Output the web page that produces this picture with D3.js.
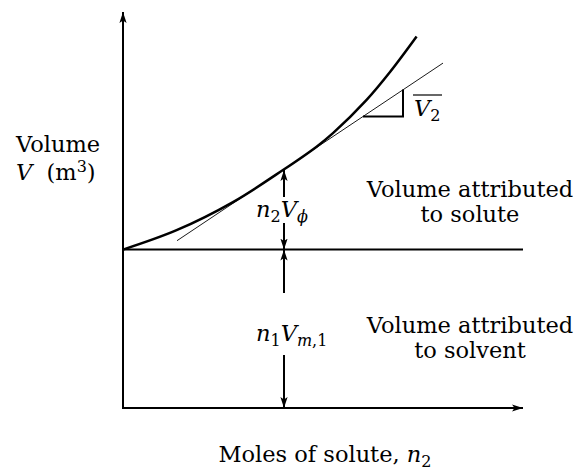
<!DOCTYPE html>
<html>
<head>
<meta charset="utf-8">
<script src="https://cdn.jsdelivr.net/npm/d3@7"></script>
<style>
  body { margin: 0; background: #fff; }
</style>
</head>
<body>
<svg id="chart"></svg>
<script>
// // constants
const width = 581;
const height = 472;
const fontSize = 22.5;
const subSize = 16;
const font = "'DejaVu Serif', 'Liberation Serif', serif";

// data (axis units 0..1)
const n2Extent = [0, 1];
const volExtent = [0, 1];
const solventVol = 0.40;
const curveN2 = [0, 0.134, 0.275, 0.40, 0.484, 0.525, 0.609, 0.668, 0.734];
const curveV = [0.40, 0.449, 0.520, 0.601, 0.660, 0.694, 0.778, 0.849, 0.938];
const tangentN2 = [0.135, 0.80];
const tangentV = [0.4225, 0.871];
const triangleN2 = [0.60, 0.70];
const triangleV = [0.736, 0.804];
const markN2 = 0.4025;
const markV = 0.601;

var svg = d3.select('svg#chart').attr('width', width).attr('height', height)

var x = d3.scaleLinear().domain(n2Extent).range([123, 523])
var y = d3.scaleLinear().domain(volExtent).range([408, 12])

// arrow head
svg.append("defs").append("marker")
    .attr("id", "head")
    .attr("viewBox", "0 -4 11 8")
    .attr("refX", 11)
    .attr("refY", 0)
    .attr("markerUnits", "userSpaceOnUse")
    .attr("markerWidth", 11)
    .attr("markerHeight", 8)
    .attr("orient", "auto-start-reverse")
    .append("path")
    .attr("d", "M0,-3.6 L11,0 L0,3.6 L2.5,0 Z")
    .attr("fill", "#000")

// axes
svg.append("line")
    .attr("x1", x(0)).attr("y1", y(0))
    .attr("x2", x(0)).attr("y2", y(volExtent[1]))
    .attr("stroke", "#000").attr("stroke-width", 2)
    .attr("marker-end", "url(#head)")

svg.append("line")
    .attr("x1", x(0) - 1).attr("y1", y(0))
    .attr("x2", x(n2Extent[1])).attr("y2", y(0))
    .attr("stroke", "#000").attr("stroke-width", 2)
    .attr("marker-end", "url(#head)")

// solvent level
svg.append("line")
    .attr("x1", x(0)).attr("y1", y(solventVol))
    .attr("x2", x(n2Extent[1])).attr("y2", y(solventVol))
    .attr("stroke", "#000").attr("stroke-width", 2)

// tangent
svg.append("line")
    .attr("x1", x(tangentN2[0])).attr("y1", y(tangentV[0]))
    .attr("x2", x(tangentN2[1])).attr("y2", y(tangentV[1]))
    .attr("stroke", "#000").attr("stroke-width", 0.9)

// slope triangle
svg.append("path")
    .attr("d", "M" + x(triangleN2[0]) + "," + y(triangleV[0])
        + " L" + x(triangleN2[1]) + "," + y(triangleV[0])
        + " L" + x(triangleN2[1]) + "," + y(triangleV[1]))
    .attr("fill", "none")
    .attr("stroke", "#000").attr("stroke-width", 2)

// volume curve
var pts = curveN2.map((d, i) => [d, curveV[i]])
svg.append("path")
    .datum(pts)
    .attr("d", d3.line().x(d => x(d[0])).y(d => y(d[1])).curve(d3.curveCatmullRom.alpha(0.5)))
    .attr("fill", "none")
    .attr("stroke", "#000")
    .attr("stroke-width", 2.5)

// double arrows
function dblArrow(v0, v1) {
    svg.append("line")
        .attr("x1", x(markN2)).attr("y1", y(v0))
        .attr("x2", x(markN2)).attr("y2", y(v1))
        .attr("stroke", "#000").attr("stroke-width", 2)
        .attr("marker-start", "url(#head)")
        .attr("marker-end", "url(#head)")
}
dblArrow(solventVol, markV)
dblArrow(solventVol, 0)

// gaps for labels
svg.append("rect").attr("x", x(markN2) - 6).attr("y", 197).attr("width", 12).attr("height", 26).attr("fill", "#fff")
svg.append("rect").attr("x", x(markN2) - 6).attr("y", 293).attr("width", 12).attr("height", 62).attr("fill", "#fff")

function label(xp, yp, anchor) {
    return svg.append("text")
        .attr("x", xp).attr("y", yp)
        .attr("text-anchor", anchor || "start")
        .attr("font-family", font)
        .attr("font-size", fontSize)
}
function part(t, s, opts) {
    var p = t.append("tspan").text(s)
    if (opts.it) p.attr("font-style", "italic")
    if (opts.sub) p.attr("font-size", subSize)
    if (opts.dy) p.attr("dy", opts.dy)
    return p
}

// n2 V_phi
var t1 = label(256, 217)
part(t1, "n", {it: true})
part(t1, "2", {sub: true, dy: 5})
part(t1, "V", {it: true, dy: -5})
part(t1, "\u03d5", {it: true, sub: true, dy: 5})

// n1 V_m,1
var t2 = label(256, 341)
part(t2, "n", {it: true})
part(t2, "1", {sub: true, dy: 5})
part(t2, "V", {it: true, dy: -5})
part(t2, "m", {it: true, sub: true, dy: 5})
part(t2, ",1", {sub: true})

// V2 bar label
var t3 = label(414, 116)
part(t3, "V", {it: true})
part(t3, "2", {sub: true, dy: 5})
svg.append("line")
    .attr("x1", 413).attr("y1", 95)
    .attr("x2", 442).attr("y2", 95)
    .attr("stroke", "#000").attr("stroke-width", 1.2)

// region labels
var regions = [["Volume attributed", "to solute", 197], ["Volume attributed", "to solvent", 333]]
regions.forEach(r => {
    label(470, r[2], "middle").text(r[0])
    label(470, r[2] + 25, "middle").text(r[1])
})

// axis labels
label(16, 152).text("Volume")
var yl = label(16, 180)
part(yl, "V", {it: true})
part(yl, "\u00a0 (m", {})
part(yl, "3", {sub: true, dy: -8})
part(yl, ")", {dy: 8})

var xl = label(325, 462, "middle")
part(xl, "Moles of solute, ", {})
part(xl, "n", {it: true})
part(xl, "2", {sub: true, dy: 5})
</script>
</body>
</html>
